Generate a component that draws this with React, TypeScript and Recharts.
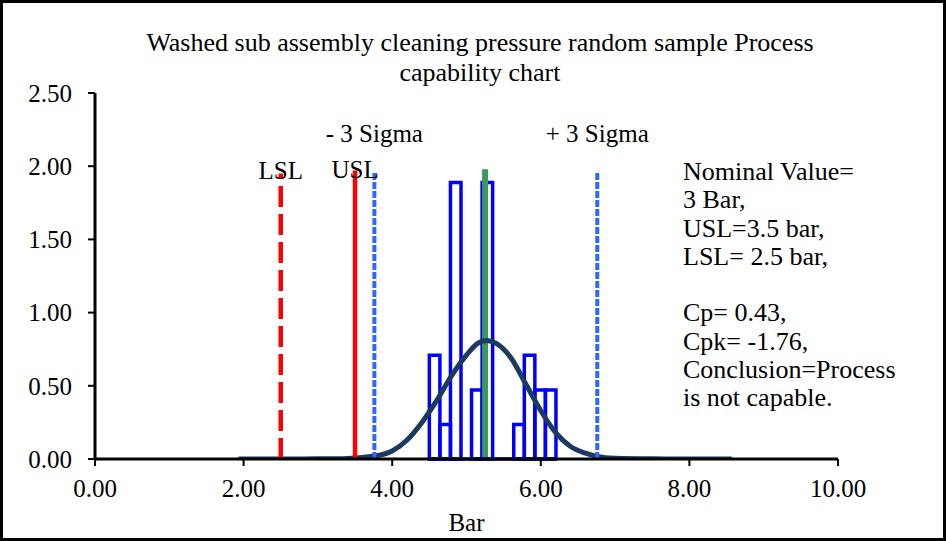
import React from 'react';
import { ComposedChart, Line, XAxis, YAxis, ReferenceArea, ReferenceLine } from 'recharts';

const titleLines = ['Washed sub assembly cleaning pressure random sample Process', 'capability chart'];
const xTicks = [0, 2, 4, 6, 8, 10];
const yTicks = [0, 0.5, 1, 1.5, 2, 2.5];

// histogram bins (bar = class edges, height = scaled frequency)
const binEdges = [4.5, 4.642, 4.784, 4.926, 5.068, 5.21, 5.352, 5.494, 5.636, 5.778, 5.92, 6.062, 6.204];
const binHeights = [0.708, 0.236, 1.888, 0, 0.472, 1.888, 0, 0, 0.236, 0.708, 0.472, 0.472];

// normal curve
const curveX = [1.93, 2.5, 3.0, 3.4, 3.76, 4.0, 4.2, 4.4, 4.6, 4.8, 5.0, 5.15, 5.27, 5.4, 5.6, 5.8, 6.0, 6.2, 6.4, 6.6, 6.76, 7.0, 7.5, 8.0, 8.57];
const curveY = [0, 0, 0.001, 0.004, 0.02, 0.055, 0.13, 0.25, 0.4, 0.57, 0.71, 0.79, 0.81, 0.79, 0.69, 0.51, 0.33, 0.18, 0.085, 0.04, 0.018, 0.005, 0.001, 0, 0];

// specification / sigma lines
const lslValue = 2.5;
const uslValue = 3.5;
const minus3Sigma = 3.76;
const plus3Sigma = 6.76;
const meanValue = 5.25;
const lslTop = 1.95;
const uslTop = 1.97;
const sigmaTop = 1.96;
const meanTop = 1.98;

const notes = ['Nominal Value=', '3 Bar,', 'USL=3.5 bar,', 'LSL= 2.5 bar,', '', 'Cp= 0.43,', 'Cpk= -1.76,', 'Conclusion=Process', 'is not capable.'];

const FONT = "'Liberation Serif', 'Times New Roman', serif";

const curveData = curveX.map((x, i) => ({ x, y: curveY[i] }));
const fmt = (v: number) => v.toFixed(2);

export default function App() {
  const labelStyle = { fill: '#000', fontSize: 25, fontFamily: FONT };
  return (
    <div style={{ position: 'absolute', left: 0, top: 0, width: 946, height: 541, background: '#fff', fontFamily: FONT }}>
      <ComposedChart
        width={946}
        height={541}
        data={curveData}
        margin={{ top: 93, right: 108, bottom: 0, left: 25 }}
      >
        <XAxis
          type="number"
          dataKey="x"
          domain={[0, 10]}
          ticks={xTicks}
          tickFormatter={fmt}
          allowDataOverflow
          height={82}
          tickSize={7}
          tickMargin={13}
          tick={{ fill: '#000', fontSize: 25, fontFamily: FONT }}
          axisLine={{ stroke: '#000', strokeWidth: 3 }}
          tickLine={{ stroke: '#000', strokeWidth: 2 }}
          label={{ value: 'Bar', position: 'insideBottom', offset: 10, ...labelStyle }}
        />
        <YAxis
          type="number"
          domain={[0, 2.5]}
          ticks={yTicks}
          tickFormatter={fmt}
          allowDataOverflow
          width={70}
          tickSize={7}
          tickMargin={16}
          tick={{ fill: '#000', fontSize: 25, fontFamily: FONT }}
          axisLine={{ stroke: '#000', strokeWidth: 3 }}
          tickLine={{ stroke: '#000', strokeWidth: 2 }}
        />
        <ReferenceLine
          segment={[{ x: meanValue, y: 0 }, { x: meanValue, y: meanTop }]}
          stroke="#3A9A5A"
          strokeWidth={6}
        />
        {binHeights.map((h, i) => (
          <ReferenceArea
            key={i}
            x1={binEdges[i]}
            x2={binEdges[i + 1]}
            y1={0}
            y2={h}
            fill="none"
            fillOpacity={0}
            stroke="#0000FF"
            strokeWidth={3.5}
            strokeOpacity={1}
            ifOverflow="visible"
          />
        ))}
        <ReferenceLine
          segment={[{ x: binEdges[0], y: 0 }, { x: binEdges[binEdges.length - 1], y: 0 }]}
          stroke="#0000FF"
          strokeWidth={3.5}
        />
        <Line
          type="monotone"
          dataKey="y"
          stroke="#1B3A60"
          strokeWidth={5}
          dot={false}
          activeDot={false}
          isAnimationActive={false}
        />
        <ReferenceLine
          segment={[{ x: lslValue, y: 0 }, { x: lslValue, y: lslTop }]}
          stroke="#FF0000"
          strokeWidth={4.5}
          strokeDasharray="21 7"
          label={{ value: 'LSL', position: 'top', offset: -5, ...labelStyle }}
        />
        <ReferenceLine
          segment={[{ x: uslValue, y: 0 }, { x: uslValue, y: uslTop }]}
          stroke="#FF0000"
          strokeWidth={4.5}
          label={{ value: 'USL', position: 'top', offset: -7, ...labelStyle }}
        />
        <ReferenceLine
          segment={[{ x: minus3Sigma, y: 0 }, { x: minus3Sigma, y: sigmaTop }]}
          stroke="#3366FF"
          strokeWidth={4}
          strokeDasharray="7 2"
          label={{ value: '- 3 Sigma', position: 'top', offset: 30, ...labelStyle }}
        />
        <ReferenceLine
          segment={[{ x: plus3Sigma, y: 0 }, { x: plus3Sigma, y: sigmaTop }]}
          stroke="#3366FF"
          strokeWidth={4}
          strokeDasharray="7 2"
          label={{ value: '+ 3 Sigma', position: 'top', offset: 30, ...labelStyle }}
        />
      </ComposedChart>
      <div
        style={{
          position: 'absolute',
          left: 80,
          top: 28,
          width: 800,
          textAlign: 'center',
          fontSize: 26,
          lineHeight: '30px',
          color: '#000',
          whiteSpace: 'nowrap',
        }}
      >
        {titleLines.map((t, i) => (
          <div key={i}>{t}</div>
        ))}
      </div>
      <div
        style={{
          position: 'absolute',
          left: 683,
          top: 158,
          fontSize: 26,
          lineHeight: '28.3px',
          color: '#000',
          whiteSpace: 'pre',
        }}
      >
        {notes.map((t, i) => (
          <div key={i}>{t === '' ? '\u00a0' : t}</div>
        ))}
      </div>
      <div
        style={{
          position: 'absolute',
          left: 0,
          top: 0,
          width: 946,
          height: 541,
          boxSizing: 'border-box',
          border: '3px solid #000',
          pointerEvents: 'none',
        }}
      />
    </div>
  );
}
